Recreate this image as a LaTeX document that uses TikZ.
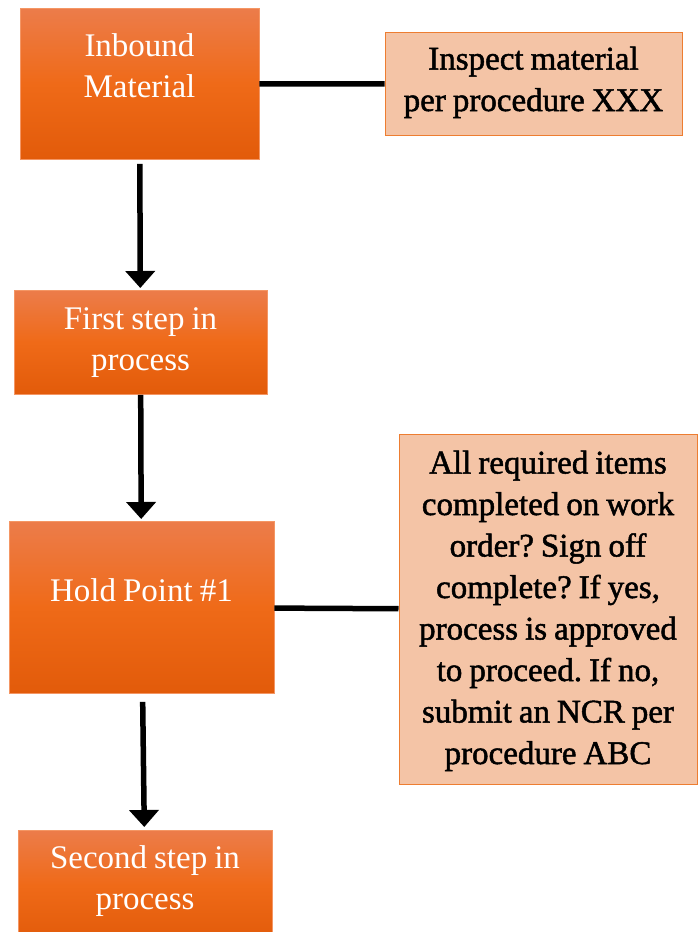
\documentclass[tikz,border=0pt]{standalone}
\usepackage{fontspec}
\setmainfont{Liberation Serif}
\newfontfamily\notefont[FakeBold=1.5]{Liberation Serif}
\usetikzlibrary{arrows.meta}
\frenchspacing
\newcommand{\stepfont}{\fontsize{33}{41.5}\selectfont}
\newcommand{\notetext}{\notefont\fontsize{33}{41.5}\selectfont}
\newcommand{\tightspaces}{\spaceskip=7pt\relax\xspaceskip=7pt\relax}

\definecolor{orangetop}{RGB}{236,124,74}
\definecolor{orangemid}{RGB}{239,106,24}
\definecolor{orangebot}{RGB}{226,91,10}
\definecolor{orangeline}{RGB}{244,150,100}
\definecolor{peach}{RGB}{244,196,166}
\definecolor{peachline}{RGB}{237,125,49}

\begin{document}
\begin{tikzpicture}[x=1pt, y=-1pt,
stepbox/.style={draw=orangeline, line width=0.8pt, top color=orangetop, bottom color=orangebot, middle color=orangemid, text=white, anchor=north, inner sep=0pt, align=center, font=\stepfont, execute at begin node=\tightspaces},
notebox/.style={draw=peachline, line width=1pt, fill=peach, text=black, anchor=north, inner sep=0pt, align=center, font=\notetext, execute at begin node=\tightspaces},
flow/.style={line width=5.5pt, -{Triangle[length=17pt,width=29pt]}},
link/.style={line width=5.5pt}]
\useasboundingbox (0,0) rectangle (697,932);

%Steps
\node[stepbox, minimum width=239pt, text width=229pt, text height=48pt, text depth=103pt] (inbound) at (139.5,8) {Inbound\\Material};
\node[stepbox, minimum width=253pt, text width=243pt, text height=39pt, text depth=65pt] (first) at (140.5,290) {First step in\\process};
\node[stepbox, minimum width=265pt, text width=255pt, text height=80pt, text depth=92pt] (hold) at (141.5,521) {Hold Point \#1};
\node[stepbox, minimum width=254pt, text width=244pt, text height=38pt, text depth=72pt] (second) at (145,830) {Second step in\\process};
%Notes
\node[notebox, minimum width=297pt, text width=287pt, text height=37pt, text depth=66pt] (inspect) at (533.5,32) {Inspect material\\per procedure XXX};
\node[notebox, minimum width=298pt, text width=290pt, text height=39pt, text depth=311pt] (check) at (548,434) {All required items\\completed on work\\order? Sign off\\complete? If yes,\\process is approved\\to proceed. If no,\\submit an NCR per\\procedure ABC};

%Connectors
\draw[link] (inbound) -- (inspect);
\draw[link] (hold) -- (check);
\draw[flow, shorten <=4pt, shorten >=2pt] (inbound) -- (first);
\draw[flow, shorten >=2pt] (first) -- (hold);
\draw[flow, shorten <=8pt, shorten >=3pt] (hold) -- (second);
\end{tikzpicture}
\end{document}
